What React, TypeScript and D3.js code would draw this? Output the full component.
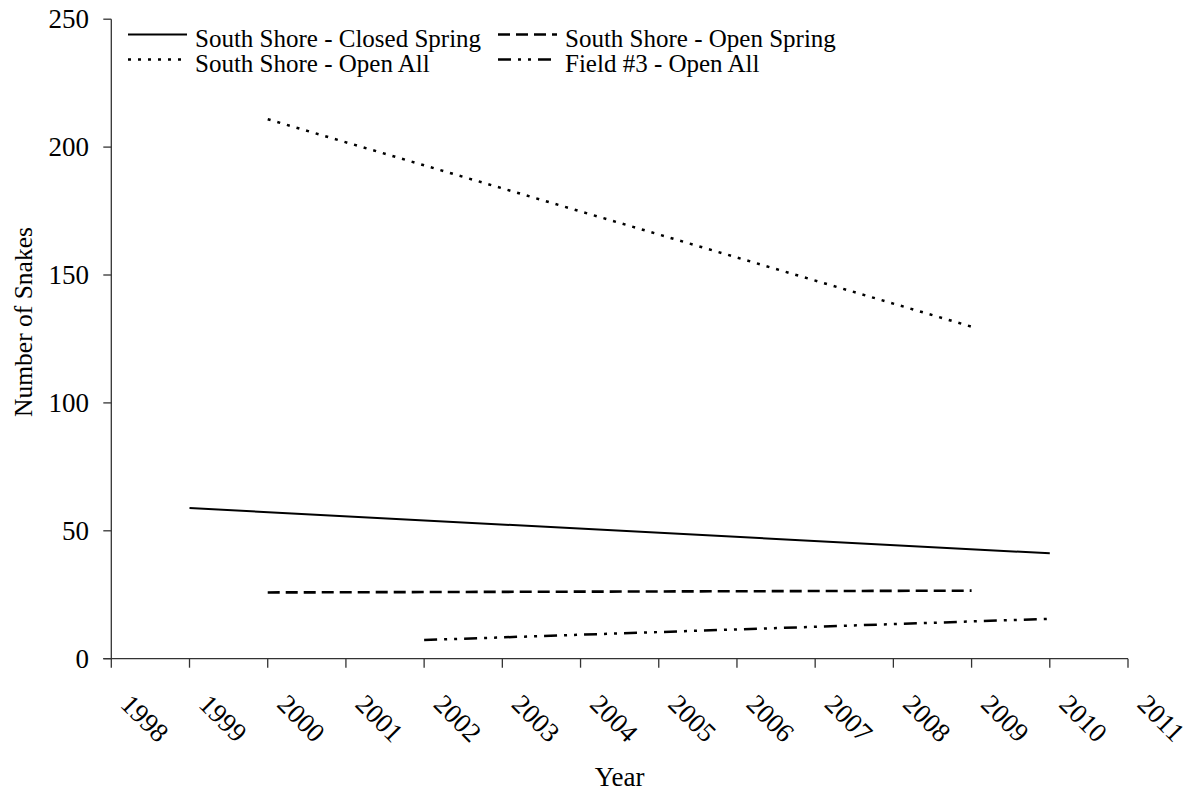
import { useEffect, useRef } from "react";
import { select, scaleLinear, line, range } from "d3";

// trend lines (year, number of snakes)
const closedSpringYears = [1999, 2010];
const closedSpringValues = [58.9, 41.2];
const openSpringYears = [2000, 2009];
const openSpringValues = [25.9, 26.6];
const openAllYears = [2000, 2009];
const openAllValues = [210.9, 129.8];
const field3Years = [2002, 2010];
const field3Values = [7.3, 15.6];

const yTicks = [0, 50, 100, 150, 200, 250];
const xTicks = range(1998, 2012);

const series = [
  { name: "South Shore - Closed Spring", years: closedSpringYears, values: closedSpringValues, dash: null, w: 2 },
  { name: "South Shore - Open Spring", years: openSpringYears, values: openSpringValues, dash: "12,6", w: 2.6 },
  { name: "South Shore - Open All", years: openAllYears, values: openAllValues, dash: "3,7", w: 2.5 },
  { name: "Field #3 - Open All", years: field3Years, values: field3Values, dash: "13,7,3,7,3,7", w: 2.5 },
];

const FONT = '"Liberation Serif", "Times New Roman", Times, serif';

const draw = (ref: SVGSVGElement) => {
  const svg = select(ref);
  svg.selectAll("*").remove();

  const x = scaleLinear().domain([1998, 2011]).range([111.3, 1128]);
  const y = scaleLinear().domain([0, 250]).range([658.7, 19.2]);

  const g = svg.append("g").style("font-family", FONT).attr("fill", "#000");

  // y axis
  g.append("line")
    .attr("x1", x(1998)).attr("x2", x(1998))
    .attr("y1", y(0)).attr("y2", y(250))
    .attr("stroke", "#333").attr("stroke-width", 1.3);
  g.selectAll(".yt")
    .data(yTicks)
    .join("line")
    .attr("x1", x(1998) - 8).attr("x2", x(1998))
    .attr("y1", (d) => y(d)).attr("y2", (d) => y(d))
    .attr("stroke", "#333").attr("stroke-width", 1.3);
  g.selectAll(".yl")
    .data(yTicks)
    .join("text")
    .attr("x", 89)
    .attr("y", (d) => y(d))
    .attr("dy", "0.34em")
    .attr("text-anchor", "end")
    .attr("font-size", 27)
    .text((d) => d);

  // x axis
  g.append("line")
    .attr("x1", x(1998) - 8).attr("x2", x(2011))
    .attr("y1", y(0)).attr("y2", y(0))
    .attr("stroke", "#333").attr("stroke-width", 1.3);
  g.selectAll(".xt")
    .data(xTicks)
    .join("line")
    .attr("x1", (d) => x(d)).attr("x2", (d) => x(d))
    .attr("y1", y(0)).attr("y2", y(0) + 9)
    .attr("stroke", "#333").attr("stroke-width", 1.3);
  g.selectAll(".xl")
    .data(xTicks)
    .join("text")
    .attr("transform", (d) => `translate(${x(d) + 8},${y(0) + 47}) rotate(45)`)
    .attr("font-size", 27)
    .text((d) => d);

  // titles
  g.append("text")
    .attr("x", (x(1998) + x(2011)) / 2).attr("y", 786)
    .attr("text-anchor", "middle")
    .attr("font-size", 27)
    .text("Year");
  g.append("text")
    .attr("transform", "translate(32,322) rotate(-90)")
    .attr("text-anchor", "middle")
    .attr("font-size", 25.5)
    .text("Number of Snakes");

  // series
  const ln = line<[number, number]>()
    .x((d) => x(d[0]))
    .y((d) => y(d[1]));
  series.forEach((s) => {
    g.append("path")
      .attr("d", ln(s.years.map((yr, i) => [yr, s.values[i]] as [number, number])))
      .attr("fill", "none")
      .attr("stroke", "#000")
      .attr("stroke-width", s.w)
      .attr("stroke-dasharray", s.dash);
  });

  // legend
  const lg = g.append("g");
  series.forEach((s, i) => {
    const col = i % 2;
    const row = Math.floor(i / 2);
    const lx = col === 0 ? 128 : 498;
    const ly = 47 + row * 25;
    lg.append("line")
      .attr("x1", lx).attr("x2", lx + 59)
      .attr("y1", ly - 12.5).attr("y2", ly - 12.5)
      .attr("stroke", "#000")
      .attr("stroke-width", s.w)
      .attr("stroke-dasharray", s.dash);
    lg.append("text")
      .attr("x", lx + 67).attr("y", ly)
      .attr("font-size", 25)
      .text(s.name);
  });
};

export default function App() {
  const ref = useRef<SVGSVGElement>(null);

  useEffect(() => {
    if (ref.current) draw(ref.current);
  }, []);

  return (
    <svg
      ref={ref}
      width={1194}
      height={794}
      style={{ position: "absolute", left: 0, top: 0, background: "#fff" }}
    />
  );
}
